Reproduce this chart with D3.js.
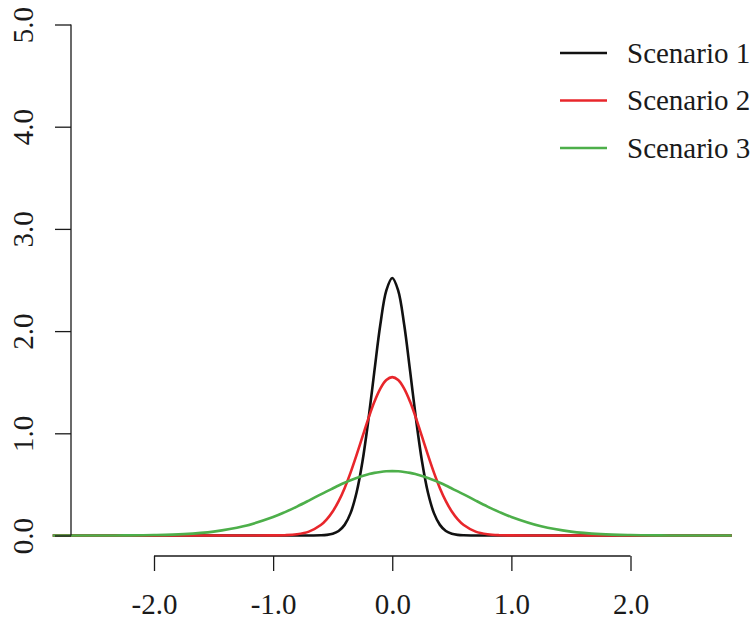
<!DOCTYPE html>
<html>
<head>
<meta charset="utf-8">
<script src="https://cdn.jsdelivr.net/npm/d3@7"></script>
<style>
  body { margin: 0; background: #fff; }
  text { font-family: "Liberation Serif", "Times New Roman", serif; fill: #1a1a1a; }
</style>
</head>
<body>
<script>
var width = 751,
    height = 618;

// x positions the curves were read at
var xs = [-2.85, -2.5, -2.25, -2.0, -1.75, -1.5, -1.25, -1.0, -0.9, -0.8, -0.7, -0.6,
          -0.55, -0.5, -0.45, -0.4, -0.35, -0.3, -0.25, -0.2, -0.15, -0.1, -0.05, 0,
          0.05, 0.1, 0.15, 0.2, 0.25, 0.3, 0.35, 0.4, 0.45, 0.5, 0.55,
          0.6, 0.7, 0.8, 0.9, 1.0, 1.25, 1.5, 1.75, 2.0, 2.25, 2.5, 2.85];

// density
var scenario1 = [0, 0, 0, 0, 0, 0, 0, 0, 0, 0, 0, 0.002,
                 0.006, 0.017, 0.044, 0.104, 0.219, 0.418, 0.724, 1.134, 1.608, 2.064, 2.397, 2.52,
                 2.397, 2.064, 1.608, 1.134, 0.724, 0.418, 0.219, 0.104, 0.044, 0.017, 0.006,
                 0.002, 0, 0, 0, 0, 0, 0, 0, 0, 0, 0, 0];
var scenario2 = [0, 0, 0, 0, 0, 0, 0, 0.001, 0.003, 0.012, 0.038, 0.102,
                 0.158, 0.235, 0.336, 0.463, 0.615, 0.786, 0.967, 1.146, 1.308, 1.437, 1.521, 1.55,
                 1.521, 1.437, 1.308, 1.146, 0.967, 0.786, 0.615, 0.463, 0.336, 0.235, 0.158,
                 0.102, 0.038, 0.012, 0.003, 0.001, 0, 0, 0, 0, 0, 0, 0];
var scenario3 = [0, 0.0003, 0.0011, 0.0043, 0.0138, 0.0381, 0.0898, 0.181, 0.229, 0.283, 0.342, 0.403,
                 0.431, 0.460, 0.489, 0.516, 0.541, 0.563, 0.583, 0.599, 0.613, 0.622, 0.628, 0.63,
                 0.628, 0.622, 0.613, 0.599, 0.583, 0.563, 0.541, 0.516, 0.489, 0.460, 0.431,
                 0.403, 0.342, 0.283, 0.229, 0.181, 0.0898, 0.0381, 0.0138, 0.0043, 0.0011, 0.0003, 0];

var seriesNames = ["Scenario 1", "Scenario 2", "Scenario 3"];
var seriesColors = ["#111111", "#e8262b", "#4daf4a"];
var xTicks = [-2, -1, 0, 1, 2];
var yTicks = [0, 1, 2, 3, 4, 5];

var svg = d3.select("body").append("svg")
    .attr("width", width)
    .attr("height", height);

var x = d3.scaleLinear().domain([-2, 2]).range([154, 630.5]);
var y = d3.scaleLinear().domain([0, 5]).range([535.5, 24.5]);

var line = d3.line()
    .x(function(d){ return x(d[0]); })
    .y(function(d){ return y(d[1]); })
    .curve(d3.curveCatmullRom);

[scenario1, scenario2, scenario3].forEach(function(vals, i){
    svg.append("path")
        .datum(xs.map(function(v, j){ return [v, vals[j]]; }))
        .attr("fill", "none")
        .attr("stroke", seriesColors[i])
        .attr("stroke-width", 2.6)
        .attr("d", line);
});

// y axis, labels turned like R does
var yAxis = svg.append("g")
    .attr("transform", "translate(71,0)")
    .call(d3.axisLeft(y).tickValues(yTicks).tickSize(16).tickFormat(d3.format(".1f")));
yAxis.selectAll("path, line").attr("stroke", "#1a1a1a").attr("stroke-width", 1.3);
yAxis.select(".domain").attr("d", "M0," + y(0) + "V" + y(5));
yAxis.selectAll("text")
    .attr("x", null).attr("dy", null)
    .attr("text-anchor", "middle")
    .attr("transform", "translate(-38,0) rotate(-90)")
    .style("font-size", "29px")
    .style("font-family", "Liberation Serif");

// x axis sits a bit below the data
var xAxis = svg.append("g")
    .attr("transform", "translate(0,556)")
    .call(d3.axisBottom(x).tickValues(xTicks).tickSize(15).tickFormat(d3.format(".1f")));
xAxis.selectAll("path, line").attr("stroke", "#1a1a1a").attr("stroke-width", 1.3);
xAxis.select(".domain").attr("d", "M" + x(-2) + ",0H" + x(2));
xAxis.selectAll("text")
    .attr("y", 58).attr("dy", null)
    .text(function(d){ return d3.format(".1f")(d).replace("−", "-"); })
    .style("font-size", "29px")
    .style("font-family", "Liberation Serif");

// legend
var legend = svg.append("g").attr("transform", "translate(560,53)");
seriesNames.forEach(function(name, i){
    var row = legend.append("g").attr("transform", "translate(0," + (i * 47.5) + ")");
    row.append("line")
        .attr("x1", 0).attr("x2", 47)
        .attr("stroke", seriesColors[i])
        .attr("stroke-width", 2.6);
    row.append("text")
        .attr("x", 67).attr("y", 9.5)
        .style("font-size", "29px")
        .text(name);
});
</script>
</body>
</html>
